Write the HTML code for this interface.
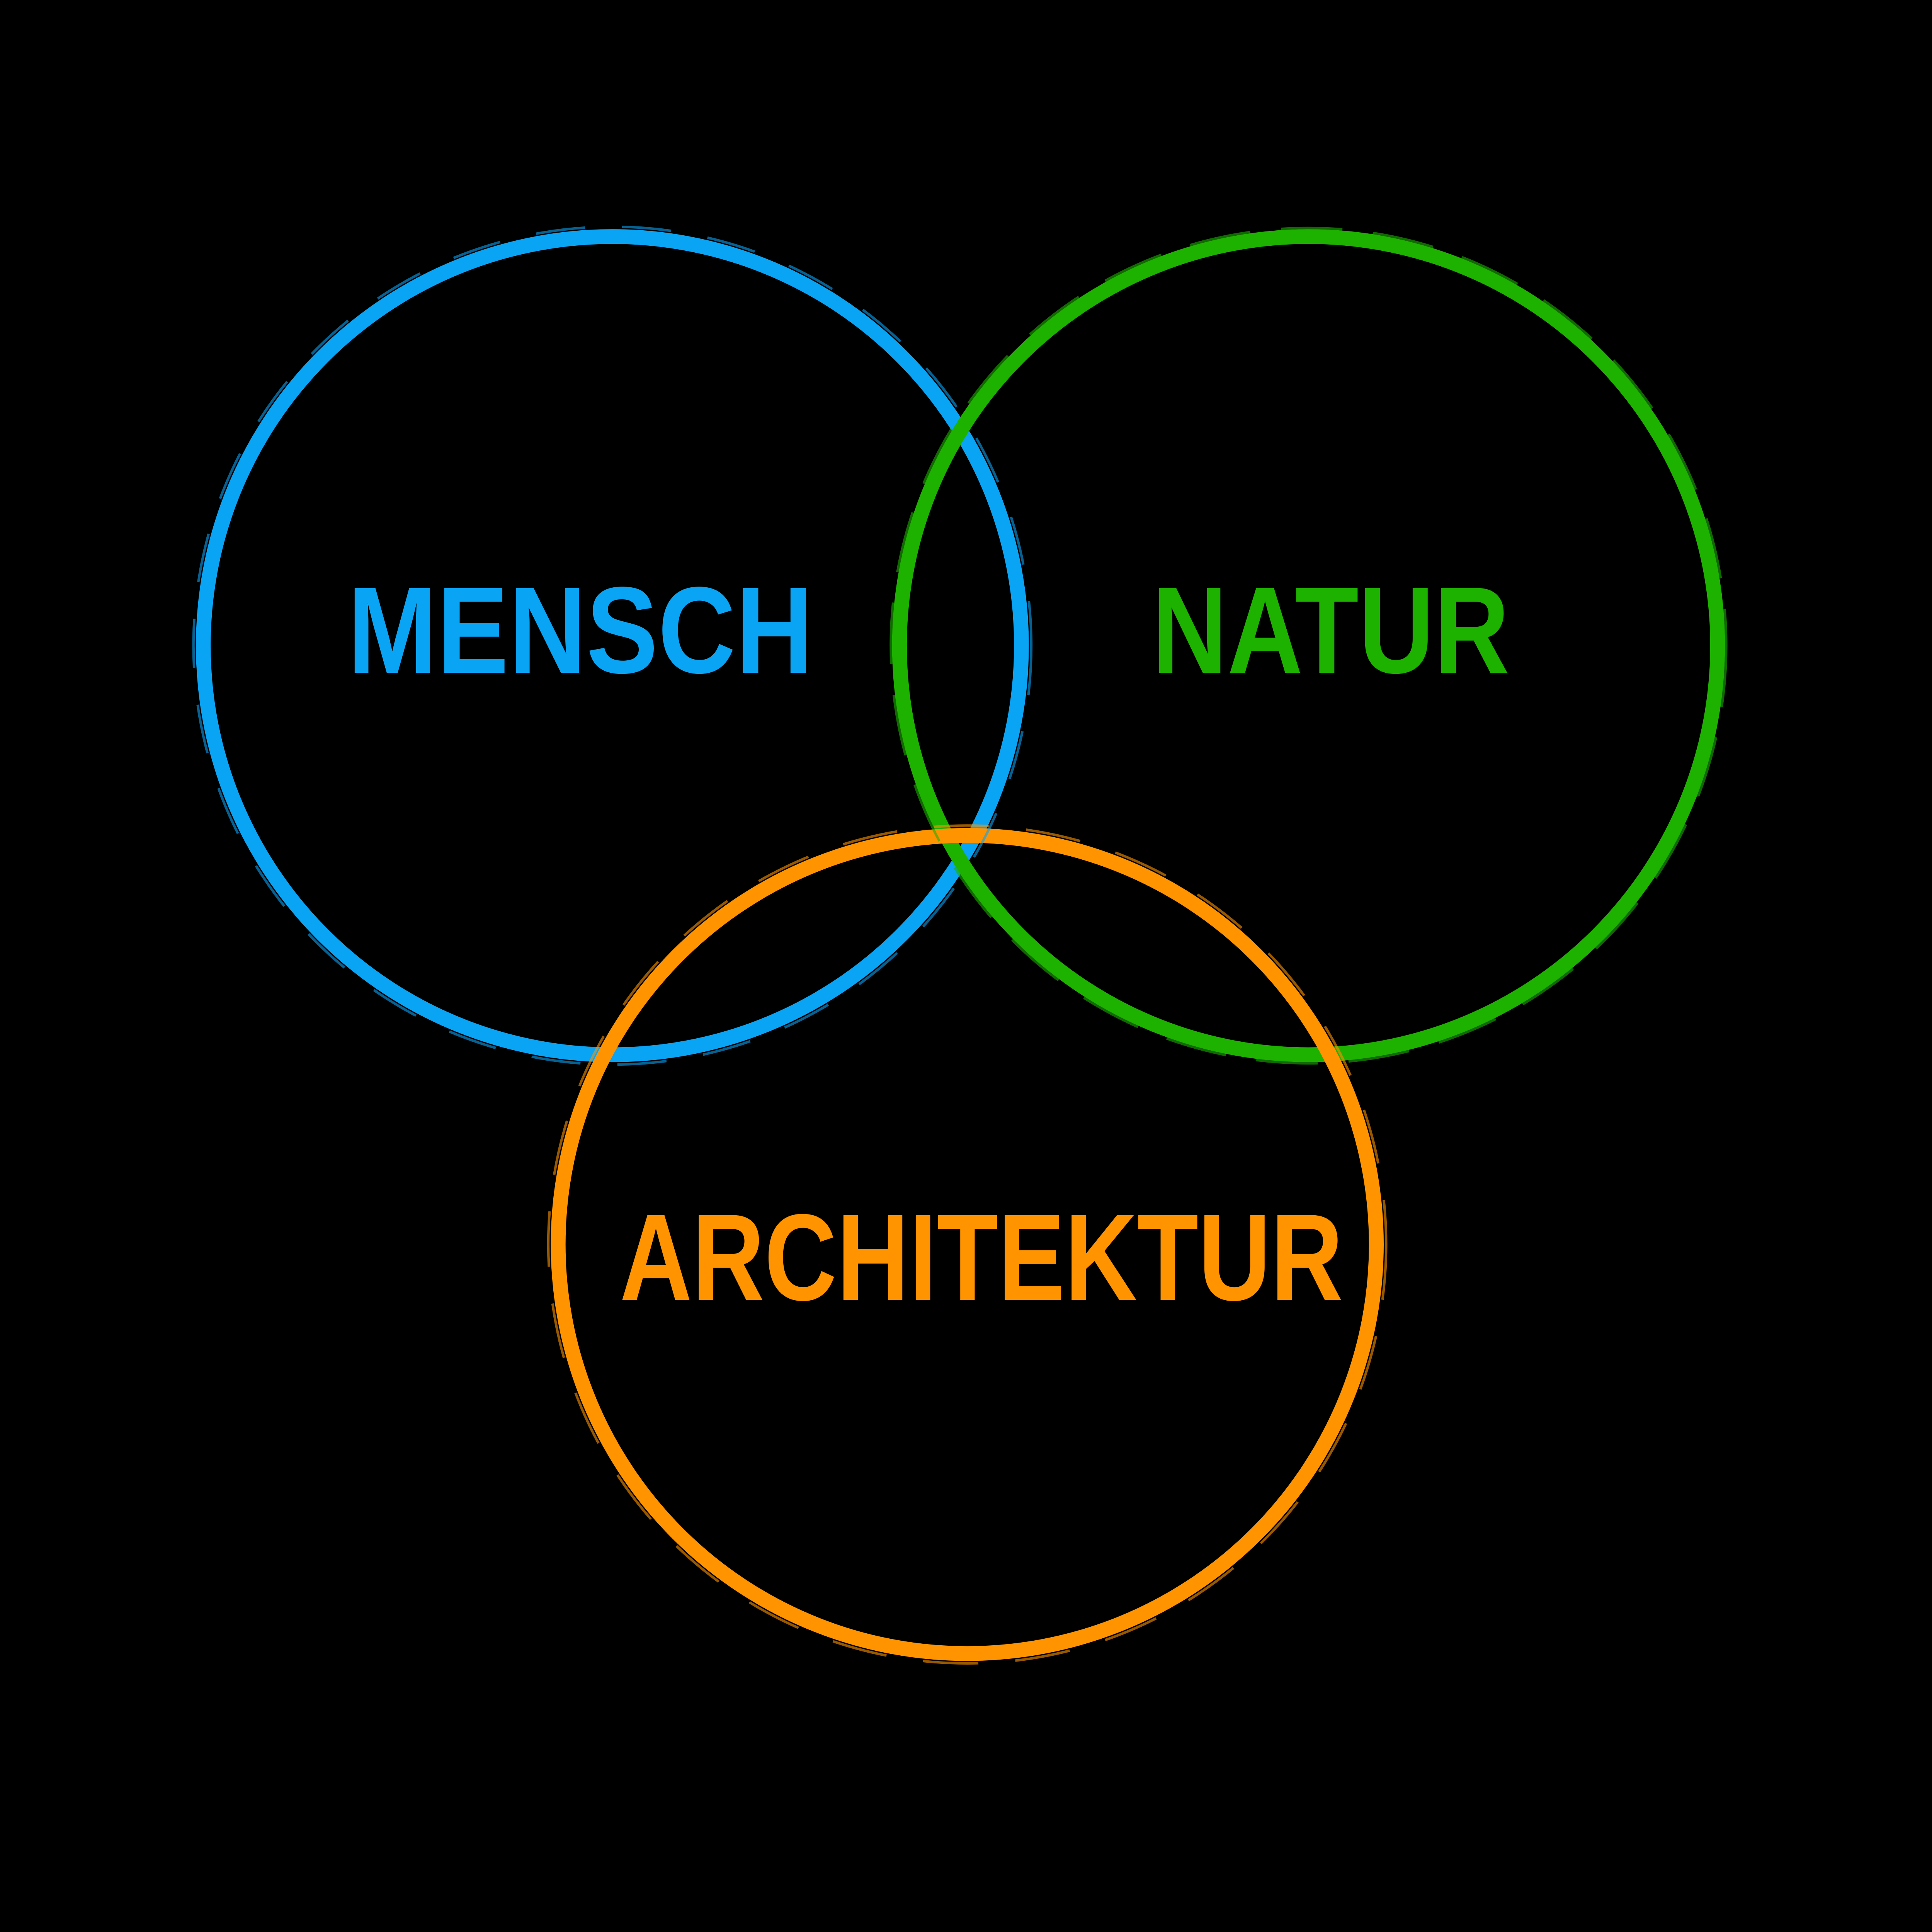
<!DOCTYPE html>
<html><head><meta charset="utf-8"><style>
html,body{margin:0;padding:0;background:#000;width:100vw;height:100vh;overflow:hidden;}
svg{display:block;position:fixed;left:0;top:0;width:100vw;height:100vh;}
</style></head><body>
<svg viewBox="0 0 1568 1568" preserveAspectRatio="none" xmlns="http://www.w3.org/2000/svg">
<rect width="1568" height="1568" fill="#000"/>
<g fill="none" stroke-width="12">
<circle cx="497" cy="524" r="332" stroke="#0aa4f5"/>
<circle cx="1062" cy="524" r="332" stroke="#1db100"/>
<circle cx="785" cy="1010" r="332" stroke="#ff9400"/>
</g>
<g fill="none" stroke-width="2" opacity="0.6">
<circle cx="497" cy="524" r="340" stroke="#0aa4f5" stroke-dasharray="40 30"/>
<circle cx="1062" cy="524" r="339" stroke="#1db100" stroke-dasharray="50 25"/>
<circle cx="785" cy="1010" r="340" stroke="#ff9400" stroke-dasharray="45 30"/>
</g>
<g font-family="'Liberation Sans', sans-serif" font-weight="bold" font-size="100">
<text x="282" y="546" fill="#0aa4f5" textLength="378" lengthAdjust="spacingAndGlyphs">MENSCH</text>
<text x="935" y="546" fill="#1db100" textLength="290" lengthAdjust="spacingAndGlyphs">NATUR</text>
<text x="503" y="1055" fill="#ff9400" textLength="587" lengthAdjust="spacingAndGlyphs">ARCHITEKTUR</text>
</g>
</svg>
</body></html>
